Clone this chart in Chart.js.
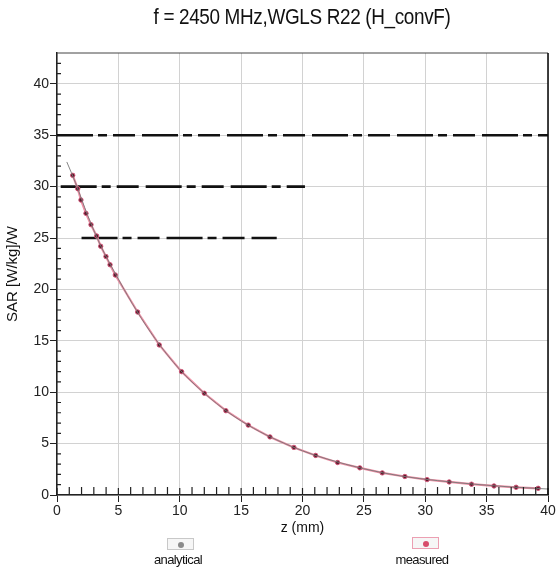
<!DOCTYPE html>
<html lang="en">
<head>
    <meta charset="UTF-8">
    <title>SAR vs z</title>
    <script src="https://cdn.jsdelivr.net/npm/chart.js"></script>
    <style>
        body {
            margin: 0;
            padding: 0;
            background: white;
            font-family: "Liberation Sans", Arial, sans-serif;
        }
        .wrap {
            position: relative;
            width: 557px;
            height: 573px;
        }
        .chart-title {
            position: absolute;
            left: 52px;
            top: 4px;
            width: 500px;
            text-align: center;
            font-size: 22px;
            letter-spacing: -0.4px;
            color: #111;
            transform: scaleX(0.86);
            white-space: nowrap;
        }
        .legend-box {
            position: absolute;
            width: 27px;
            height: 12px;
            background: #f6f6f6;
            box-sizing: border-box;
        }
        .legend-box span {
            position: absolute;
            left: 10px;
            top: 3px;
            width: 6px;
            height: 6px;
            border-radius: 50%;
        }
        .legend-label {
            position: absolute;
            width: 100px;
            text-align: center;
            font-size: 13px;
            letter-spacing: -0.6px;
            color: #111;
        }
    </style>
</head>
<body>
<div class="wrap">
    <canvas id="sarChart"></canvas>
    <div class="chart-title">f = 2450 MHz,WGLS R22 (H_convF)</div>
    <div class="legend-box" style="left:167px; top:538px; border:1px solid #c8c8c8;"><span style="background:#8a8a8a;"></span></div>
    <div class="legend-label" style="left:128px; top:552px;">analytical</div>
    <div class="legend-box" style="left:412px; top:537px; border:1px solid #ec9fb2;"><span style="background:#d84d6c;"></span></div>
    <div class="legend-label" style="left:372px; top:552px;">measured</div>
</div>

<script>
    // values
    const zMeasured = [1.28, 1.69, 1.95, 2.36, 2.77, 3.23, 3.56, 3.99, 4.32, 4.75,
        6.57, 8.33, 10.15, 12.0, 13.76, 15.58, 17.35, 19.3, 21.07, 22.86,
        24.67, 26.5, 28.34, 30.15, 31.95, 33.77, 35.6, 37.4, 39.2];
    const sarMeasured = [31.1, 29.8, 28.7, 27.4, 26.3, 25.2, 24.2, 23.2, 22.4, 21.4,
        17.8, 14.6, 12.0, 9.9, 8.2, 6.8, 5.65, 4.63, 3.85, 3.16,
        2.64, 2.15, 1.8, 1.5, 1.27, 1.05, 0.88, 0.75, 0.65];

    const zAnalytical = [0.8, 1.5, 2.5, 3.5, 5, 6.5, 8, 10, 12, 14, 16, 18, 20, 22, 25, 28, 31, 34, 37, 40];
    const sarAnalytical = [32.4, 30.4, 27.2, 24.4, 21.0, 17.9, 15.2, 12.2, 9.9, 8.0, 6.5, 5.3, 4.3, 3.5, 2.55, 1.85, 1.4, 1.05, 0.78, 0.58];

    // the heavy broken horizontal strokes at 35, 30 and 25
    const dashLevels = [35, 30, 25];
    const dashStart = [0, 0.3, 2.0];
    const dashEnd = [40, 20.2, 17.9];

    const xTicks = [0, 5, 10, 15, 20, 25, 30, 35, 40];
    const yTicks = [0, 5, 10, 15, 20, 25, 30, 35, 40];

    function toPoints(xs, ys) {
        return xs.map((x, i) => ({ x: x, y: ys[i] }));
    }

    const dashSets = dashLevels.map((lvl, i) => ({
        label: 'dash' + lvl,
        data: [{ x: dashStart[i], y: lvl }, { x: dashEnd[i], y: lvl }],
        borderColor: '#111',
        borderWidth: 2.6,
        borderDash: [36, 5, 9, 6, 22, 7],
        pointRadius: 0,
        showLine: true,
        order: 3
    }));

    // minor ticks, crossing major ticks, frame
    const framePlugin = {
        id: 'frame',
        afterDatasetsDraw(chart) {
            const ctx = chart.ctx;
            const a = chart.chartArea;
            const xs = chart.scales.x;
            const ys = chart.scales.y;
            ctx.save();
            ctx.strokeStyle = '#222';
            ctx.lineWidth = 1.2;
            ctx.beginPath();
            for (let v = 1; v < 43; v++) {
                if (v % 5 === 0) continue;
                const py = ys.getPixelForValue(v);
                ctx.moveTo(a.left, py);
                ctx.lineTo(a.left + 4, py);
            }
            for (let v = 1; v < 40; v++) {
                if (v % 5 === 0) continue;
                const px = xs.getPixelForValue(v);
                ctx.moveTo(px, a.bottom);
                ctx.lineTo(px, a.bottom - 8);
            }
            xTicks.forEach(v => {
                const px = xs.getPixelForValue(v);
                ctx.moveTo(px, a.bottom - 7);
                ctx.lineTo(px, a.bottom);
            });
            ctx.stroke();
            ctx.strokeStyle = '#444';
            ctx.lineWidth = 1;
            ctx.beginPath();
            ctx.moveTo(a.left, a.top);
            ctx.lineTo(a.right, a.top);
            ctx.stroke();
            ctx.strokeStyle = '#111';
            ctx.lineWidth = 1.6;
            ctx.beginPath();
            ctx.moveTo(a.right, a.top);
            ctx.lineTo(a.right, a.bottom);
            ctx.stroke();
            ctx.restore();
        }
    };

    const ctx = document.getElementById('sarChart').getContext('2d');
    new Chart(ctx, {
        type: 'scatter',
        data: {
            datasets: [
                {
                    label: 'measured',
                    data: toPoints(zMeasured, sarMeasured),
                    showLine: true,
                    borderColor: '#ee8fa5',
                    borderWidth: 2.2,
                    pointRadius: 2.2,
                    pointBackgroundColor: '#5e1a2c',
                    pointBorderColor: '#d2587a',
                    pointBorderWidth: 1,
                    order: 2
                },
                {
                    label: 'analytical',
                    data: toPoints(zAnalytical, sarAnalytical),
                    showLine: true,
                    cubicInterpolationMode: 'monotone',
                    borderColor: '#777',
                    borderWidth: 0.9,
                    pointRadius: 0,
                    order: 1
                },
                ...dashSets
            ]
        },
        options: {
            responsive: true,
            maintainAspectRatio: false,
            animation: false,
            layout: { padding: { left: 4, right: 9, top: 53, bottom: 36 } },
            plugins: {
                legend: { display: false },
                tooltip: { enabled: false }
            },
            scales: {
                x: {
                    type: 'linear',
                    min: 0,
                    max: 40,
                    afterBuildTicks(scale) {
                        scale.ticks = xTicks.map(v => ({ value: v }));
                    },
                    afterFit(scale) { scale.height = 42; },
                    grid: { color: '#d2d2d2', lineWidth: 1, tickLength: 7, tickColor: '#222' },
                    border: { color: '#222', width: 1.5 },
                    ticks: {
                        color: '#222',
                        padding: 1,
                        maxRotation: 0,
                        font: { family: 'Liberation Sans', size: 14 }
                    },
                    title: {
                        display: true,
                        text: 'z (mm)',
                        color: '#111',
                        padding: 0,
                        font: { family: 'Liberation Sans', size: 14 }
                    }
                },
                y: {
                    type: 'linear',
                    min: 0,
                    max: 43,
                    afterBuildTicks(scale) {
                        scale.ticks = yTicks.map(v => ({ value: v }));
                    },
                    afterFit(scale) { scale.width = 53; },
                    grid: { color: '#d2d2d2', lineWidth: 1, tickLength: 7, tickColor: '#222' },
                    border: { color: '#222', width: 1.5 },
                    ticks: {
                        color: '#222',
                        padding: 1,
                        font: { family: 'Liberation Sans', size: 14 }
                    },
                    title: {
                        display: true,
                        text: 'SAR [W/kg]/W',
                        color: '#111',
                        padding: 0,
                        font: { family: 'Liberation Sans', size: 15 }
                    }
                }
            }
        },
        plugins: [framePlugin]
    });
</script>
</body>
</html>
